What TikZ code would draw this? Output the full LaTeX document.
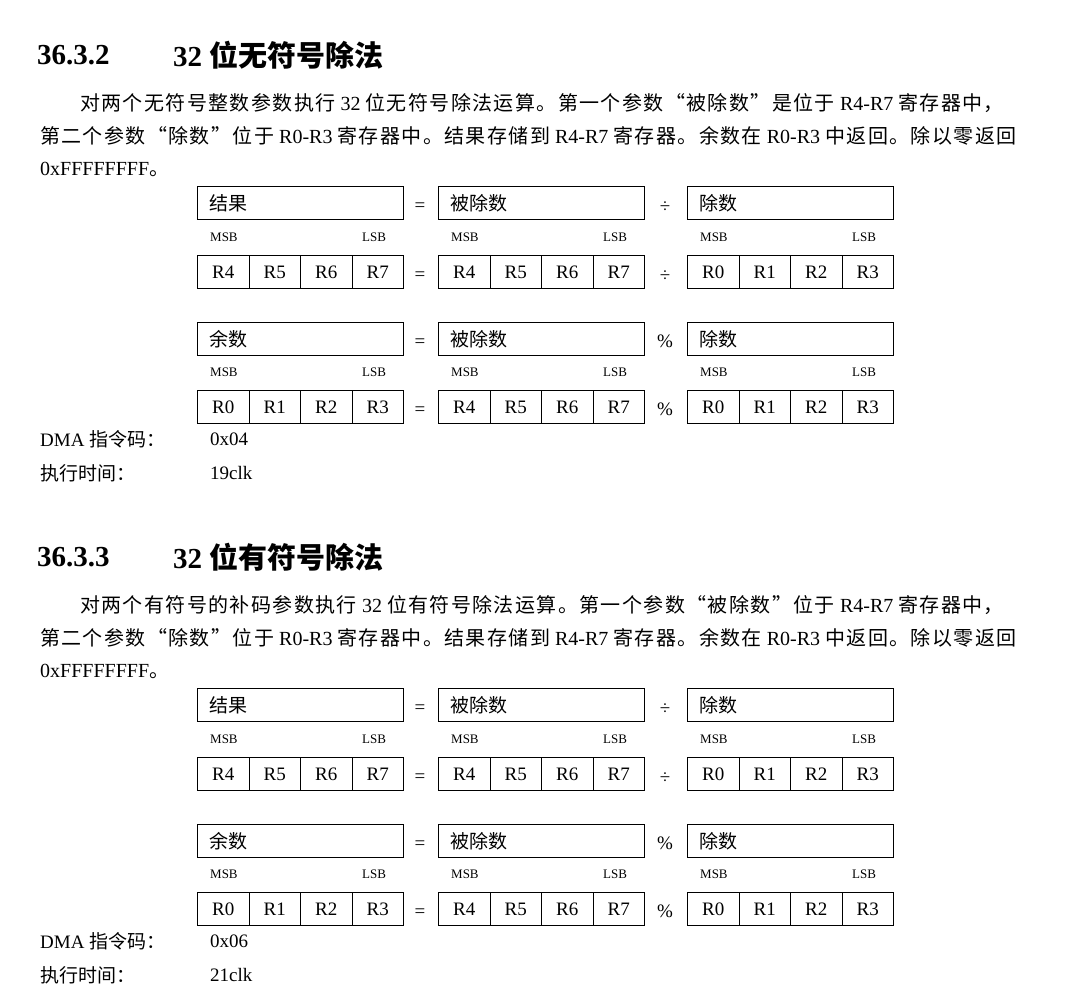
\documentclass[tikz,border=0pt]{standalone}
\usepackage{fontspec}
\setmainfont{Liberation Serif}
\newfontfamily\C{Noto Sans CJK SC}
\newfontfamily\Cp{Noto Sans CJK SC}[LetterSpace=7]
\begin{document}
\begin{tikzpicture}[x=1pt,y=-1pt,
  every node/.style={inner sep=0pt},
  txt/.style={anchor=west,font=\fontsize{19}{19}\selectfont},
  par/.style={anchor=west,font=\fontsize{20}{20}\selectfont},
  head/.style={anchor=west,font=\fontsize{29}{29}\selectfont\bfseries},
  box/.style={draw,line width=1.1pt,anchor=north west,minimum height=33pt,text width=182pt,inner xsep=12pt,align=left,font=\fontsize{19}{19}\selectfont\C},
  cell/.style={draw,line width=1.1pt,anchor=north west,minimum height=33pt,minimum width=51.5pt,font=\fontsize{19}{19}\selectfont},
  lab/.style={font=\fontsize{13}{13}\selectfont},
  op/.style={font=\fontsize{19}{19}\selectfont}]
\fill[white] (0,0) rectangle (1078,997);
\useasboundingbox (0,0) rectangle (1078,997);
\newcommand\cells[7]{%
  \node[cell] (#1a) at (#2,#3) {#4};
  \node[cell] (#1b) at ({#2+51.5},#3) {#5};
  \node[cell] (#1c) at ({#2+103},#3) {#6};
  \node[cell] (#1d) at ({#2+154.5},#3) {#7};}
\newcommand\msb[3]{%
  \node[lab,anchor=west] (#1m) at ({#2+13},#3) {MSB};
  \node[lab,anchor=west] (#1l) at ({#2+165},#3) {LSB};}
\newcommand\divblock[3]{%
  \node[box] (#1A) at (197,186) {结果};
  \node[op] (#1e1) at (420,207) {=};
  \node[box] (#1B) at (438,186) {被除数};
  \node[op] (#1o1) at (665,207) {÷};
  \node[box] (#1D) at (687,186) {除数};
  \msb{#1s1}{197}{237}\msb{#1s2}{438}{237}\msb{#1s3}{687}{237}
  \cells{#1p}{197}{255}{R4}{R5}{R6}{R7}
  \node[op] (#1e2) at (420,276) {=};
  \cells{#1q}{438}{255}{R4}{R5}{R6}{R7}
  \node[op] (#1o2) at (665,276) {÷};
  \cells{#1r}{687}{255}{R0}{R1}{R2}{R3}
  \node[box] (#1E) at (197,322) {余数};
  \node[op] (#1e3) at (420,343) {=};
  \node[box] (#1F) at (438,322) {被除数};
  \node[op] (#1o3) at (665,341) {\%};
  \node[box] (#1G) at (687,322) {除数};
  \msb{#1s4}{197}{372}\msb{#1s5}{438}{372}\msb{#1s6}{687}{372}
  \cells{#1u}{197}{390}{R0}{R1}{R2}{R3}
  \node[op] (#1e4) at (420,411) {=};
  \cells{#1v}{438}{390}{R4}{R5}{R6}{R7}
  \node[op] (#1o4) at (665,409) {\%};
  \cells{#1w}{687}{390}{R0}{R1}{R2}{R3}
  \node[txt] (#1dma) at (40,439) {DMA {\C 指令码：}};
  \node[txt] (#1dmav) at (210,439) {#2};
  \node[txt] (#1t) at (40,473) {{\C 执行时间：}};
  \node[txt] (#1tv) at (210,473) {#3};}
% section 1
\node[head] (h1) at (37,55) {36.3.2};
\node[head] (h1b) at (173,55) {32 {\C\bfseries 位无符号除法}};
\node[par] (p1a) at (80,103) {{\Cp 对两个无符号整数参数执行} 32 {\Cp 位无符号除法运算。第一个参数“被除数”是位于} R4-R7 {\Cp 寄存器中，}};
\node[par] (p1b) at (40,136) {{\Cp 第二个参数“除数”位于} R0-R3 {\Cp 寄存器中。结果存储到} R4-R7 {\Cp 寄存器。余数在} R0-R3 {\Cp 中返回。除以零返回}};
\node[par] (p1c) at (40,169) {0xFFFFFFFF{\Cp 。}};
\divblock{a}{0x04}{19clk}
% section 2
\begin{scope}[yshift=-502pt]
\node[head] (h2) at (37,55) {36.3.3};
\node[head] (h2b) at (173,55) {32 {\C\bfseries 位有符号除法}};
\node[par] (p2a) at (80,103) {{\Cp 对两个有符号的补码参数执行} 32 {\Cp 位有符号除法运算。第一个参数“被除数”位于} R4-R7 {\Cp 寄存器中，}};
\node[par] (p2b) at (40,136) {{\Cp 第二个参数“除数”位于} R0-R3 {\Cp 寄存器中。结果存储到} R4-R7 {\Cp 寄存器。余数在} R0-R3 {\Cp 中返回。除以零返回}};
\node[par] (p2c) at (40,169) {0xFFFFFFFF{\Cp 。}};
\divblock{b}{0x06}{21clk}
\end{scope}
\end{tikzpicture}
\end{document}
